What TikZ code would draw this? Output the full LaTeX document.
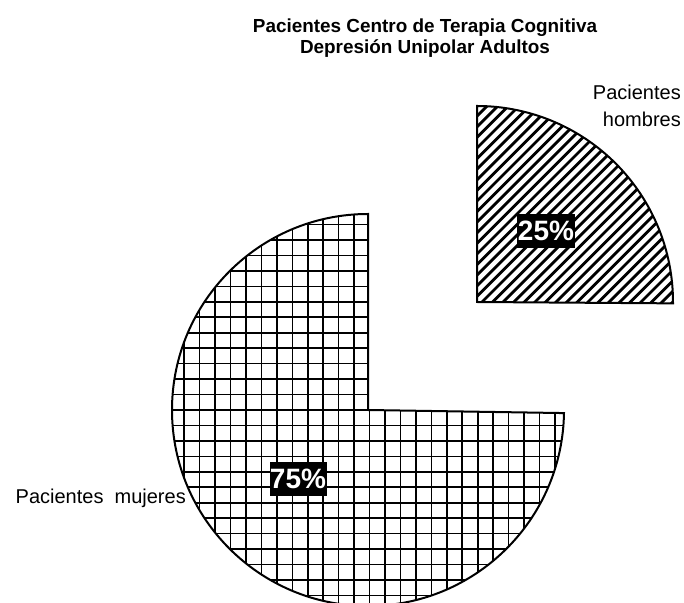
\documentclass[tikz,border=0pt]{standalone}
\usepackage{fontspec}
\setmainfont{Liberation Sans}
\tikzset{
  slice/.style={draw=black, line width=2pt, line join=miter},
  gridline/.style={draw=black, line width=1.6pt},
  hatchline/.style={draw=black, line width=2.8pt},
  pct/.style={fill=black, text=white, font=\fontsize{28}{30}\selectfont\bfseries, inner sep=0pt, minimum height=34pt},
  lbl/.style={font=\fontsize{20}{27}\selectfont, inner sep=0pt},
  ttl/.style={font=\fontsize{18.9}{21}\selectfont\bfseries, align=center, inner sep=0pt}
}
\begin{document}
\begin{tikzpicture}[x=1pt,y=1pt]
\useasboundingbox[fill=white] (0,0) rectangle (684,602);
% big slice (75%)
\coordinate (cbig) at (368,192);
\begin{scope}
\clip (cbig) -- ++(90:196) arc[start angle=90, end angle=359.1, radius=196] -- cycle;
\fill[white] (160,-20) rectangle (580,400);
\foreach \i in {-14,...,12} {
  \draw[gridline] (385+15.45*\i,-20) -- (385+15.45*\i,400);
  \draw[gridline] (160,192+15.45*\i) -- (580,192+15.45*\i);
}
\end{scope}
\path[slice] (cbig) -- ++(90:196) arc[start angle=90, end angle=359.1, radius=196] -- cycle;
% small slice (25%)
\coordinate (csmall) at (477,300);
\begin{scope}
\clip (csmall) -- ++(-0.4:196) arc[start angle=-0.4, end angle=90, radius=196] -- cycle;
\fill[white] (470,290) rectangle (680,500);
\foreach \i in {0,...,42} {
  \draw[hatchline] (250+10.6*\i,280) -- ++(45:330);
}
\end{scope}
\path[slice] (csmall) -- ++(-0.4:196) arc[start angle=-0.4, end angle=90, radius=196] -- cycle;
% labels
\node[ttl] (title) at (425,564) {Pacientes Centro de Terapia Cognitiva\\Depresión Unipolar Adultos};
\node[lbl, align=right, anchor=east] (hombres) at (681,496) {Pacientes\\hombres};
\node[lbl, anchor=east] (mujeres) at (186,104) {Pacientes\ \ mujeres};
\node[pct, minimum width=58pt] (p25) at (546,371) {25\%};
\node[pct, minimum width=57pt] (p75) at (298,123) {75\%};
\end{tikzpicture}
\end{document}
